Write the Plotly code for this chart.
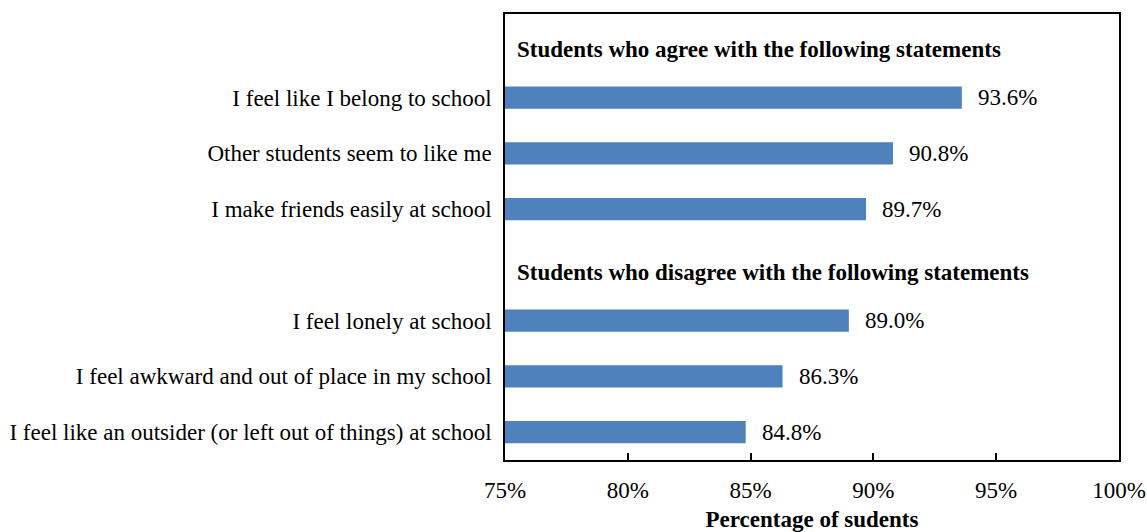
import plotly.graph_objects as go

categories = [
    "I feel like I belong to school",
    "Other students seem to like me",
    "I make friends easily at school",
    "I feel lonely at school",
    "I feel awkward and out of place in my school",
    "I feel like an outsider (or left out of things) at school",
]
values = [93.6, 90.8, 89.7, 89.0, 86.3, 84.8]
headers = [
    "Students who agree with the following statements",
    "Students who disagree with the following statements",
]
header_keys = ["__h1", "__h2"]
x_ticks = [75, 80, 85, 90, 95, 100]
x_tick_labels = ["75%", "80%", "85%", "90%", "95%", "100%"]

order = [header_keys[0]] + categories[:3] + [header_keys[1]] + categories[3:]

FONT = "Liberation Serif, Times New Roman, serif"
FS = 23

fig = go.Figure(
    go.Bar(
        x=values,
        y=categories,
        orientation="h",
        marker=dict(color="#4F81BD", line=dict(width=0)),
        width=0.4,
        hoverinfo="x+y",
    )
)

for c, v in zip(categories, values):
    fig.add_annotation(
        x=v, y=c, xref="x", yref="y", text=f"{v:.1f}%",
        showarrow=False, xanchor="left", yanchor="middle", xshift=14,
        font=dict(family=FONT, size=FS, color="black"),
    )

for key, h in zip(header_keys, headers):
    fig.add_annotation(
        x=75.4, y=key, xref="x", yref="y", text=f"<b>{h}</b>",
        showarrow=False, xanchor="left", yanchor="middle", yshift=-8,
        font=dict(family=FONT, size=FS, color="black"),
    )

fig.update_layout(
    width=1147, height=532,
    margin=dict(l=505, r=28, t=14, b=72),
    plot_bgcolor="white", paper_bgcolor="white",
    showlegend=False,
    font=dict(family=FONT, size=FS, color="black"),
)
fig.update_xaxes(
    range=[75, 100], tickvals=x_ticks, ticktext=x_tick_labels,
    ticks="inside", ticklen=7, tickwidth=1.5, tickcolor="black",
    showline=True, linecolor="black", linewidth=1.5, mirror=True,
    showgrid=False, zeroline=False, automargin=False,
    ticklabelstandoff=9,
    tickfont=dict(family=FONT, size=FS, color="black"),
    title=dict(text="<b>Percentage of sudents</b>", standoff=14,
               font=dict(family=FONT, size=FS, color="black")),
)
fig.update_yaxes(
    type="category", categoryorder="array", categoryarray=order,
    range=[len(order) - 0.5, -0.5],
    tickvals=categories, ticktext=categories,
    ticks="", showline=True, linecolor="black", linewidth=1.5, mirror=True,
    showgrid=False, zeroline=False, automargin=False, ticklabelstandoff=7,
    tickfont=dict(family=FONT, size=FS, color="black"),
)

fig.write_html("out.html", config={"displayModeBar": False},
               post_script="document.body.style.margin='0';")
